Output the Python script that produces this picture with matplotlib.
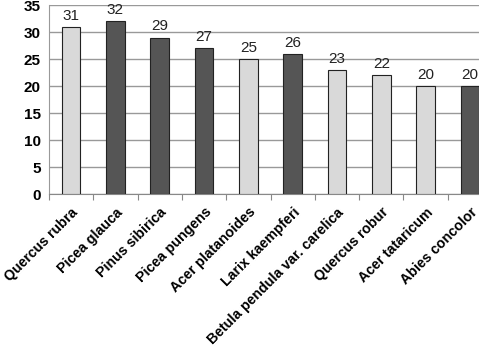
import matplotlib
matplotlib.use("Agg")
import matplotlib.pyplot as plt

species = ["Quercus rubra", "Picea glauca", "Pinus sibirica", "Picea pungens",
           "Acer platanoides", "Larix kaempferi", "Betula pendula var. carelica",
           "Quercus robur", "Acer tataricum", "Abies concolor"]
values = [31, 32, 29, 27, 25, 26, 23, 22, 20, 20]
group = ["light", "dark", "dark", "dark", "light", "dark", "light", "light", "light", "dark"]
yticks = [0, 5, 10, 15, 20, 25, 30, 35]

colors = {"light": "#d9d9d9", "dark": "#555555"}

plt.rcParams['font.family'] = ['Liberation Sans', 'DejaVu Sans']
fig = plt.figure(figsize=(4.79, 3.47), dpi=100)
ax = fig.add_axes([49/479, 153/347, 443/479, 188.7/347])

x = list(range(len(species)))
ax.bar(x, values, width=0.42, color=[colors[g] for g in group],
       edgecolor="#222222", linewidth=0.8, zorder=3)
for xi, v in zip(x, values):
    ax.text(xi, v + 0.8, str(v), ha="center", va="bottom", fontsize=11, color="#222222")

ax.set_xlim(-0.5, 9.5)
ax.set_ylim(0, 35)
ax.set_yticks(yticks)
ax.set_yticklabels([str(t) for t in yticks], fontsize=11, fontweight="bold")
ax.yaxis.grid(True, color="#999999", linewidth=1.0, zorder=0)
ax.tick_params(axis="y", length=0, pad=6)

ax.set_xticks([i - 0.5 for i in range(11)], minor=False)
ax.set_xticklabels([])
ax.tick_params(axis="x", length=4, color="#888888", direction="out")
ax.set_xticks(x, minor=True)
ax.set_xticklabels(species, minor=True, rotation=45, ha="right", va="top",
                   rotation_mode="anchor", fontsize=10.2, fontweight="bold")
ax.tick_params(axis="x", which="minor", length=0, pad=8)
for lbl in ax.get_xticklabels(minor=True):
    lbl.set_x(lbl.get_position()[0])

for s in ["top", "right"]:
    ax.spines[s].set_visible(False)
ax.spines["left"].set_color("#999999")
ax.spines["bottom"].set_color("#888888")

fig.savefig("out.png", dpi=100)
